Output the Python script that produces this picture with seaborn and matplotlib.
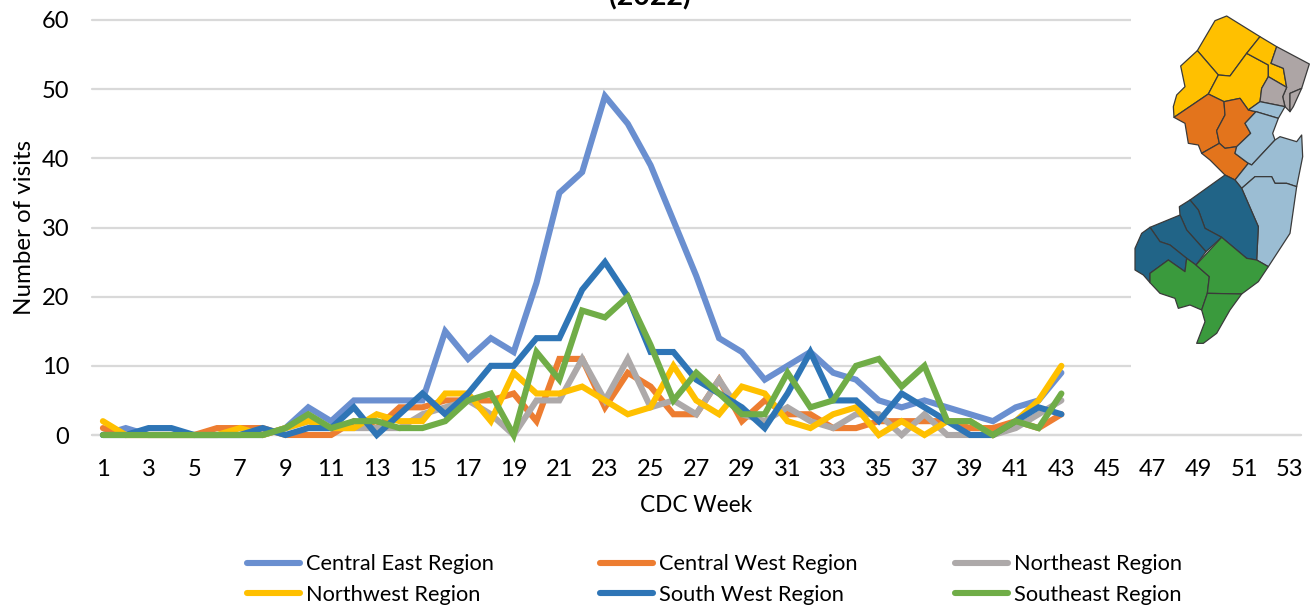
import matplotlib
matplotlib.use("Agg")
import matplotlib.pyplot as plt
from matplotlib.lines import Line2D
from matplotlib.patches import Polygon
import pandas as pd
import seaborn as sns

WEEKS = list(range(1, 44))
TICK_WEEKS = list(range(1, 54, 2))

CENTRAL_EAST = [0, 1, 0, 0, 0, 0, 0, 0, 1, 4, 2, 5, 5, 5, 5, 15, 11, 14, 12, 22, 35, 38,
                49, 45, 39, 31, 23, 14, 12, 8, 10, 12, 9, 8, 5, 4, 5, 4, 3, 2, 4, 5, 9]
CENTRAL_WEST = [1, 0, 0, 0, 0, 1, 1, 1, 0, 0, 0, 2, 1, 4, 4, 5, 5, 5, 6, 2, 11, 11,
                4, 9, 7, 3, 3, 8, 2, 5, 3, 3, 1, 1, 2, 2, 2, 2, 1, 1, 2, 1, 3]
NORTHEAST = [0, 0, 0, 0, 0, 0, 0, 0, 1, 2, 1, 1, 1, 1, 3, 4, 5, 3, 0, 5, 5, 11,
             5, 11, 4, 5, 3, 8, 3, 2, 4, 2, 1, 3, 3, 0, 3, 0, 0, 0, 1, 3, 5]
NORTHWEST = [2, 0, 0, 0, 0, 0, 1, 0, 1, 2, 1, 1, 3, 2, 2, 6, 6, 2, 9, 6, 6, 7,
             5, 3, 4, 10, 5, 3, 7, 6, 2, 1, 3, 4, 0, 2, 0, 2, 2, 0, 2, 5, 10]
SOUTH_WEST = [0, 0, 1, 1, 0, 0, 0, 1, 0, 1, 1, 4, 0, 3, 6, 3, 6, 10, 10, 14, 14, 21,
              25, 20, 12, 12, 8, 6, 4, 1, 6, 12, 5, 5, 2, 6, 4, 2, 0, 0, 2, 4, 3]
SOUTHEAST = [0, 0, 0, 0, 0, 0, 0, 0, 1, 3, 1, 2, 2, 1, 1, 2, 5, 6, 0, 12, 8, 18,
             17, 20, 13, 5, 9, 6, 3, 3, 9, 4, 5, 10, 11, 7, 10, 2, 2, 0, 2, 1, 6]

REGIONS = ["Central East Region", "Central West Region", "Northeast Region",
           "Northwest Region", "South West Region", "Southeast Region"]
COLORS = ["#6A8FD0", "#ED7D31", "#ADA9A9", "#FFC000", "#2E75B6", "#70AD47"]

# map outlines, county by county, in map pixels
NORTHWEST_MAP = [
    [(232, 152), (285, 62), (320, 48), (420, 110), (380, 160), (330, 228), (295, 225)],
    [(232, 152), (295, 225), (265, 282), (162, 352), (160, 320), (170, 285), (195, 260), (182, 198)],
    [(295, 225), (330, 228), (380, 160), (445, 195), (445, 230), (425, 265), (420, 305), (385, 330), (360, 295), (312, 305), (265, 282)],
    [(420, 110), (470, 140), (453, 190), (490, 205), (500, 262), (445, 230), (445, 195), (380, 160)],
]
NORTHEAST_MAP = [
    [(470, 140), (568, 192), (545, 265), (510, 280), (510, 335), (495, 320), (488, 290), (500, 262), (490, 205), (453, 190)],
    [(445, 230), (500, 262), (488, 290), (495, 320), (420, 305), (425, 265)],
    [(510, 280), (545, 265), (520, 320), (510, 335)],
]
CENTRAL_WEST_MAP = [
    [(265, 282), (312, 305), (315, 345), (290, 392), (298, 430), (245, 460), (235, 435), (205, 430), (195, 370), (162, 352)],
    [(312, 305), (360, 295), (385, 330), (408, 335), (375, 370), (392, 400), (350, 440), (315, 445), (298, 430), (290, 392), (315, 345)],
    [(298, 430), (315, 445), (350, 440), (345, 460), (385, 490), (345, 540), (315, 525), (270, 480), (245, 460)],
]
CENTRAL_EAST_MAP = [
    [(420, 305), (495, 320), (475, 355), (408, 335), (385, 330)],
    [(408, 335), (475, 355), (458, 400), (465, 420), (395, 495), (385, 490), (345, 460), (350, 440), (392, 400), (375, 370)],
    [(465, 420), (480, 410), (530, 425), (545, 405), (548, 470), (530, 560), (500, 550), (465, 550), (455, 530), (405, 530), (365, 565), (345, 540), (385, 490), (395, 495)],
    [(365, 565), (405, 530), (455, 530), (465, 550), (500, 550), (530, 560), (510, 700), (445, 800), (410, 780), (415, 680)],
]
SOUTH_WEST_MAP = [
    [(210, 600), (315, 525), (345, 540), (365, 565), (415, 680), (410, 780), (380, 775), (305, 712), (255, 685), (235, 630)],
    [(178, 620), (210, 600), (235, 630), (255, 685), (305, 712), (258, 755), (200, 690), (180, 645)],
    [(90, 682), (180, 645), (200, 690), (258, 755), (228, 795), (200, 775), (150, 735), (120, 725)],
    [(45, 745), (65, 700), (90, 682), (120, 725), (150, 735), (200, 775), (195, 815), (145, 780), (90, 820), (90, 848), (70, 825), (45, 810)],
]
SOUTHEAST_MAP = [
    [(90, 820), (145, 780), (195, 815), (200, 775), (228, 795), (268, 830), (262, 880), (245, 930), (210, 915), (175, 925), (165, 895), (120, 880), (90, 848)],
    [(228, 795), (305, 712), (380, 775), (410, 780), (445, 800), (415, 845), (365, 882), (262, 880), (268, 830)],
    [(262, 880), (365, 882), (330, 930), (290, 1000), (250, 1030), (230, 1030), (255, 965), (245, 930)],
]
MAP_GROUPS = [(NORTHWEST_MAP, "#FFC000"), (NORTHEAST_MAP, "#ADA5A5"), (CENTRAL_WEST_MAP, "#E3741C"),
              (CENTRAL_EAST_MAP, "#9BBDD3"), (SOUTH_WEST_MAP, "#216487"), (SOUTHEAST_MAP, "#3A9A3D")]

W, H = 1315, 606

sns.set_theme(style="white")
plt.rcParams["font.family"] = ["Lato", "DejaVu Sans"]

df = pd.DataFrame({"week": WEEKS, REGIONS[0]: CENTRAL_EAST, REGIONS[1]: CENTRAL_WEST, REGIONS[2]: NORTHEAST,
                   REGIONS[3]: NORTHWEST, REGIONS[4]: SOUTH_WEST, REGIONS[5]: SOUTHEAST})
long_df = df.melt(id_vars="week", var_name="region", value_name="visits")

fig = plt.figure(figsize=(W / 100, H / 100), dpi=100)
ax = fig.add_axes([91.5 / W, 1 - 435 / H, (1301 - 91.5) / W, 415 / H])

sns.lineplot(data=long_df, x="week", y="visits", hue="region", hue_order=REGIONS, palette=COLORS,
             linewidth=4.4, errorbar=None, legend=False, ax=ax, clip_on=False, zorder=3,
             solid_capstyle="round", solid_joinstyle="miter")

ax.set_xlim(0.5, 53.5)
ax.set_ylim(0, 60)
ax.set_xticks(TICK_WEEKS)
ax.set_yticks(range(0, 61, 10))
ax.tick_params(axis="both", labelsize=17, length=0, colors="#000000")
ax.tick_params(axis="x", pad=17)
ax.tick_params(axis="y", pad=16)
ax.set_xlabel("CDC Week", fontsize=16.3, color="#000000", labelpad=11)
ax.set_ylabel("Number of visits", fontsize=17.4, color="#000000", labelpad=5)
ax.grid(axis="y", color="#D9D9D9", linewidth=1.6, clip_on=False)
ax.set_axisbelow(True)
sns.despine(ax=ax, left=True, bottom=True, top=True, right=True)
ax.axhline(0, color="#D9D9D9", linewidth=1.6, zorder=1, clip_on=False)

# title runs off the top of the crop in the source image
fig.text(650 / W, 1 + 3 / H, "(2022)", fontsize=20.5, fontweight="bold", ha="center", va="center", color="#000000")

# the map sits on a white panel that hides the gridlines behind it
map_ax = fig.add_axes([1131 / W, 1 - 432 / H, 184 / W, 432 / H], zorder=5)
map_ax.set_xlim(33, 585)
map_ax.set_ylim(1296, 0)
map_ax.axis("off")
map_ax.add_patch(plt.Rectangle((33, 0), 552, 1296, facecolor="white", edgecolor="none"))
for group, color in MAP_GROUPS:
    for county in group:
        map_ax.add_patch(Polygon(county, closed=True, facecolor=color, edgecolor="#3A3A3A", linewidth=0.9, joinstyle="round"))

# one legend per column so each column can start where it does in the source
handles = [Line2D([], [], color=c, linewidth=4.4, solid_capstyle="round") for c in COLORS]
for col, left in enumerate([247, 600, 955]):
    top, bottom = col, col + 3
    fig.legend([handles[top], handles[bottom]], [REGIONS[top], REGIONS[bottom]], frameon=False,
               loc="center left", bbox_to_anchor=(left / W, 1 - 579.5 / H), fontsize=15.7, handlelength=2.43,
               handletextpad=0.28, labelspacing=0.48, labelcolor="#000000", borderpad=0, borderaxespad=0)

fig.savefig("out.png", dpi=100)
